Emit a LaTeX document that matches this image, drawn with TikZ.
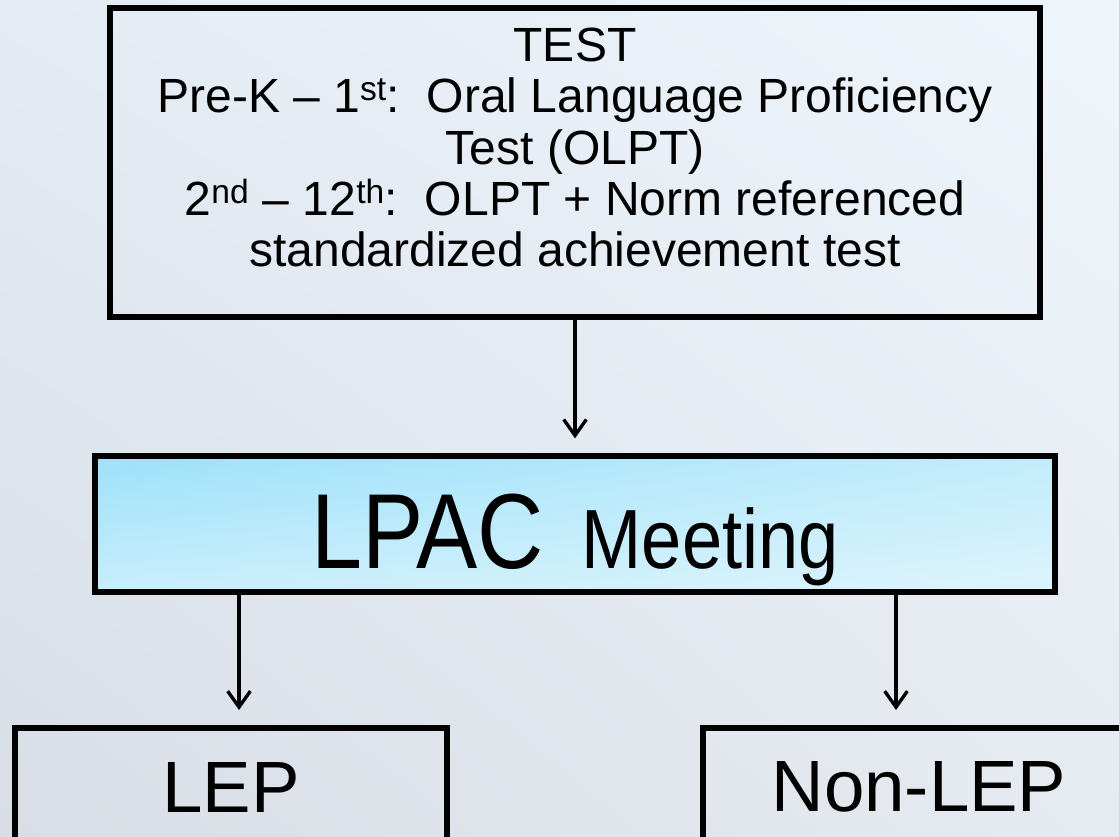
\documentclass[tikz,border=0pt]{standalone}
\usepackage{fontspec}
\setmainfont{Liberation Sans}
\newfontfamily\narrowsans[FakeStretch=0.86]{Liberation Sans}
\usetikzlibrary{arrows.meta,calc,positioning,shadings}
\definecolor{bgtl}{HTML}{E4EBF3}
\definecolor{bgtr}{HTML}{EEF5FB}
\definecolor{bgbl}{HTML}{D9DEE6}
\definecolor{bgbr}{HTML}{E6EBF1}
\definecolor{lpactl}{HTML}{9DE1FA}
\definecolor{lpactr}{HTML}{C2ECFB}
\definecolor{lpacbl}{HTML}{C8EEFB}
\definecolor{lpacbr}{HTML}{DDF4FC}
\tikzset{
  box/.style={draw=black,line width=4pt,align=center,inner sep=0pt},
  arr/.style={line width=2.5pt,-{Straight Barb[length=12pt,width=17pt]}}
}

\begin{document}
\begin{tikzpicture}[x=0.75pt,y=-0.75pt]
\clip (0,0) rectangle (1119,836);
\shade[upper left=bgtl,upper right=bgtr,lower left=bgbl,lower right=bgbr] (0,0) rectangle (1119,836);
\node[box,minimum width=697.5pt,minimum height=231.75pt,text depth=22.8pt,font=\fontsize{36}{38.5}\selectfont] (test) at (575,162.5)
  {TEST\\Pre-K \textendash\ 1\textsuperscript{st}:\ \ Oral Language Proficiency\\Test (OLPT)\\2\textsuperscript{nd} \textendash\ 12\textsuperscript{th}:\ \ OLPT + Norm referenced\\standardized achievement test};
\node[box,minimum width=720pt,minimum height=102pt,text height=66pt,text depth=0pt,shade,upper left=lpactl,upper right=lpactr,lower left=lpacbl,lower right=lpacbr] (lpac) at (575,524)
  {\narrowsans\fontsize{80}{80}\selectfont LPAC\hspace{9pt} \fontsize{63}{63}\selectfont Meeting};
\node[box,minimum width=324pt,minimum height=88.5pt,font=\fontsize{54.5}{60}\selectfont] (lep) at (231,787) {LEP};
\node[box,minimum width=324pt,minimum height=88.5pt,font=\fontsize{54.5}{60}\selectfont] (nonlep) at (919,787) {Non-LEP};
\draw[arr] (test.south) -- ($(lpac.north)+(0,-15)$);
\draw[arr] ([xshift=6pt]lep.north |- lpac.south) -- ([xshift=6pt,yshift=11.5pt]lep.north);
\draw[arr] ([xshift=-17.25pt]nonlep.north |- lpac.south) -- ([xshift=-17.25pt,yshift=11.5pt]nonlep.north);
\end{tikzpicture}
\end{document}
